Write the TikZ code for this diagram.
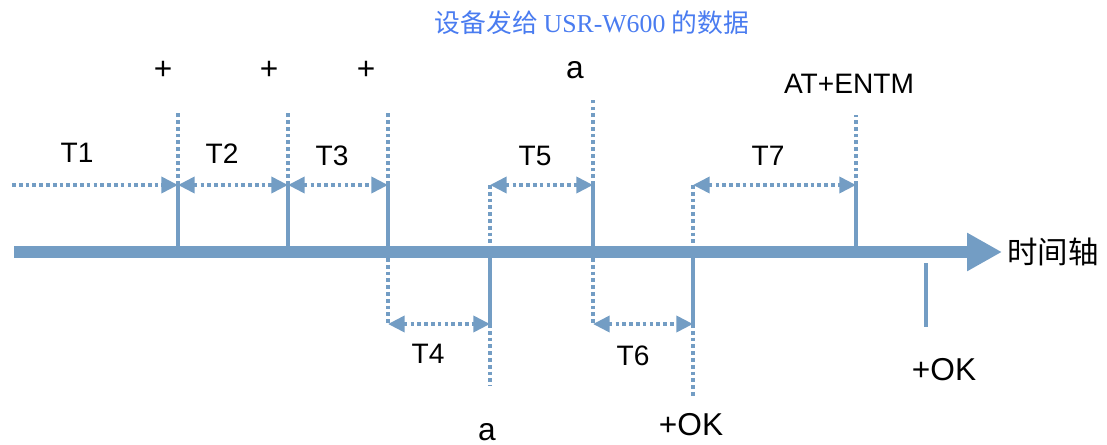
\documentclass[tikz,border=0pt]{standalone}
\usepackage{fontspec}
\setmainfont{Liberation Sans}
\newfontfamily\cjk{Noto Sans CJK SC}
\newfontfamily\serif{Liberation Serif}
\usepackage{xcolor}
\usepackage{tikz}
\usetikzlibrary{arrows.meta}
\definecolor{axisblue}{RGB}{115,157,196}
\definecolor{titleblue}{RGB}{74,124,240}

\begin{document}
\begin{tikzpicture}[
    x=0.03cm, y=-0.03cm,
    solidtick/.style={axisblue, line width=3pt},
    dottick/.style={axisblue, line width=3.2pt, dash pattern=on 3.2pt off 2.6pt},
    dim/.style={dottick, {Triangle[length=0.5cm,width=0.48cm]}-{Triangle[length=0.5cm,width=0.48cm]}},
    dimr/.style={dottick, -{Triangle[length=0.5cm,width=0.48cm]}},
    tlabel/.style={font=\fontsize{24}{24}\selectfont, inner sep=0pt, anchor=base},
    dlabel/.style={font=\fontsize{27}{27}\selectfont, inner sep=0pt, anchor=base},
]
\useasboundingbox (0,0) rectangle (1107,445);

% points on the dimension lines
\coordinate (s0) at (12,185);
\coordinate (m1) at (178,185);
\coordinate (m2) at (288,185);
\coordinate (m3) at (388,185);
\coordinate (m4) at (490,185);
\coordinate (m5) at (593,185);
\coordinate (m6) at (693,185);
\coordinate (m7) at (856,185);
\coordinate (n3) at (388,324);
\coordinate (n4) at (490,324);
\coordinate (n5) at (593,324);
\coordinate (n6) at (693,324);
\coordinate (axtop) at (0,247);
\coordinate (axbot) at (0,258);
\coordinate (ok) at (926,263);

\node[font=\fontsize{22}{22}\selectfont, text=titleblue, inner sep=0pt] (title) at (592,23)
    {\cjk 设备发给 \serif USR-W600 \cjk 的数据};

% time axis
\draw[axisblue, line width=0.36cm, -{Triangle[length=1.05cm,width=1.08cm]}]
    (14,252) coordinate (a0) -- (1002,252) coordinate (a1);
\node[font=\cjk\fontsize{26}{26}\selectfont, inner sep=0pt, anchor=west, xshift=0.15cm] (axislbl) at (a1) {时间轴};

% ticks above the axis
\draw[solidtick] (m1) -- (m1 |- axtop);
\draw[solidtick] (m2) -- (m2 |- axtop);
\draw[solidtick] (m3) -- (m3 |- axtop);
\draw[solidtick] (m5) -- (m5 |- axtop);
\draw[solidtick] (m7) -- (m7 |- axtop);
\draw[dottick] (m1) -- ++(0,-73);
\draw[dottick] (m2) -- ++(0,-73);
\draw[dottick] (m3) -- ++(0,-73);
\draw[dottick] (m5) -- ++(0,-88);
\draw[dottick] (m7) -- ++(0,-70);
\draw[dottick] (m4) -- (m4 |- axtop);
\draw[dottick] (m6) -- (m6 |- axtop);

% ticks below the axis
\draw[dottick] (m3 |- axbot) -- (n3);
\draw[dottick] (m5 |- axbot) -- (n5);
\draw[solidtick] (m4 |- axbot) -- (n4);
\draw[solidtick] (m6 |- axbot) -- (n6);
\draw[dottick] (n4) -- ++(0,62);
\draw[dottick] (n6) -- ++(0,72);
\draw[solidtick] (ok) -- ++(0,64);

% intervals
\draw[dimr] (s0) -- (m1);
\draw[dim] (m1) -- (m2);
\draw[dim] (m2) -- (m3);
\draw[dim] (n3) -- (n4);
\draw[dim] (m4) -- (m5);
\draw[dim] (n5) -- (n6);
\draw[dim] (m6) -- (m7);

\node[tlabel] (t1) at (77,162) {T1};
\node[tlabel] (t2) at (222,163) {T2};
\node[tlabel] (t3) at (332,165) {T3};
\node[tlabel] (t4) at (428,363) {T4};
\node[tlabel] (t5) at (535,165) {T5};
\node[tlabel] (t6) at (633,365) {T6};
\node[tlabel] (t7) at (768,165) {T7};

% sent and received characters
\node[dlabel, anchor=center] (plus1) at (163,70) {+};
\node[dlabel, anchor=center] (plus2) at (269,70) {+};
\node[dlabel, anchor=center] (plus3) at (366,70) {+};
\node[dlabel] (atop) at (575,78) {a};
\node[dlabel] (abot) at (487,440) {a};
\node[tlabel] (entm) at (849,93) {AT+ENTM};
\node[dlabel] (ok1) at (691,435) {+OK};
\node[dlabel] (ok2) at (944,380) {+OK};
\end{tikzpicture}
\end{document}
